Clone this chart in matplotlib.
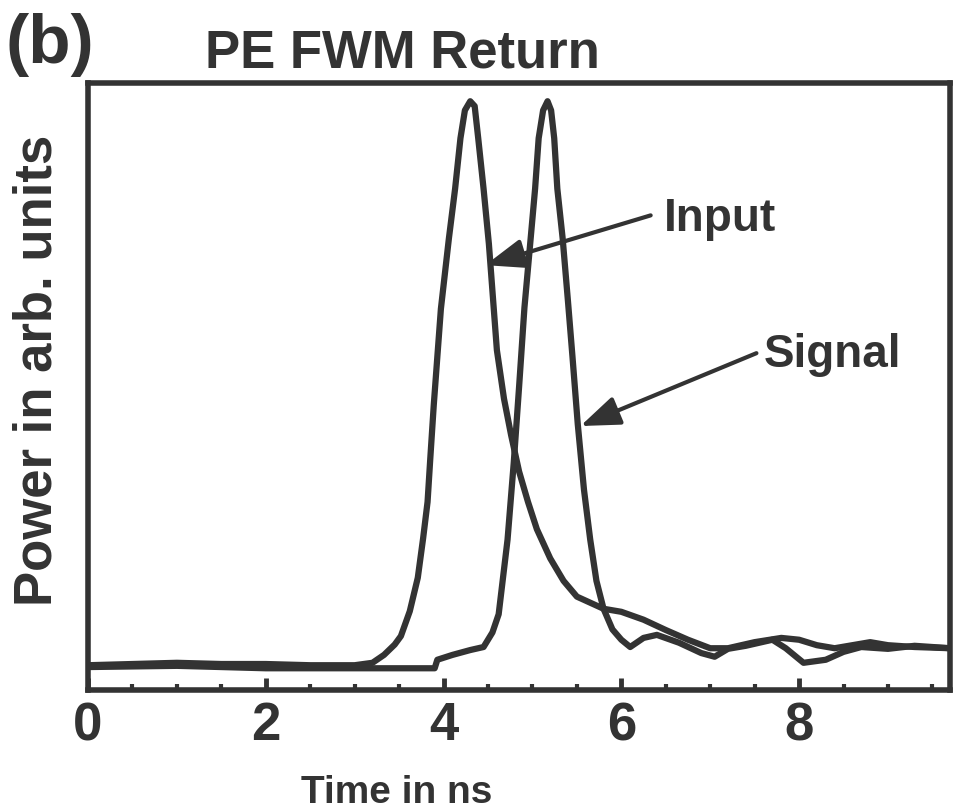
import matplotlib
matplotlib.use('Agg')
import matplotlib.pyplot as plt
from matplotlib.ticker import MultipleLocator

# time in ns, power in arb. units
t_input = [0, 0.5, 1, 1.5, 2, 2.5, 3, 3.2, 3.33, 3.45, 3.52, 3.62, 3.71, 3.77, 3.82,
           3.85, 3.89, 3.97, 4.06, 4.13, 4.19, 4.24, 4.30, 4.35, 4.39, 4.45, 4.51, 4.6,
           4.68, 4.76, 4.85, 4.95, 5.05, 5.2, 5.35, 5.5, 5.8, 6.0, 6.25, 6.5, 6.75, 7.0,
           7.2, 7.5, 7.8, 8.0, 8.2, 8.4, 8.6, 8.8, 9.0, 9.3, 9.7]
v_input = [0.041, 0.043, 0.045, 0.043, 0.043, 0.041, 0.041, 0.045, 0.058, 0.075, 0.089,
           0.13, 0.185, 0.25, 0.31, 0.38, 0.47, 0.628, 0.744, 0.826, 0.909, 0.955, 0.970,
           0.962, 0.909, 0.826, 0.735, 0.56, 0.48, 0.42, 0.36, 0.31, 0.265, 0.217, 0.18,
           0.154, 0.134, 0.129, 0.116, 0.099, 0.083, 0.069, 0.069, 0.079, 0.086, 0.083,
           0.074, 0.069, 0.074, 0.079, 0.074, 0.071, 0.069]

t_signal = [0, 1, 2, 3, 3.9, 3.93, 4.1, 4.3, 4.45, 4.55, 4.62, 4.72, 4.79, 4.85, 4.91,
            4.98, 5.03, 5.07, 5.12, 5.17, 5.21, 5.245, 5.28, 5.34, 5.40, 5.45, 5.51, 5.58,
            5.65, 5.72, 5.8, 5.9, 6.0, 6.1, 6.25, 6.4, 6.65, 6.9, 7.05, 7.2, 7.4, 7.7,
            7.85, 8.05, 8.3, 8.5, 8.7, 9.0, 9.3, 9.7]
v_signal = [0.038, 0.040, 0.036, 0.036, 0.036, 0.050, 0.058, 0.066, 0.071, 0.095, 0.125,
            0.248, 0.375, 0.50, 0.63, 0.744, 0.826, 0.909, 0.955, 0.970, 0.955, 0.909,
            0.826, 0.744, 0.64, 0.55, 0.438, 0.33, 0.248, 0.18, 0.134, 0.10, 0.083, 0.071,
            0.086, 0.091, 0.078, 0.061, 0.055, 0.068, 0.073, 0.083, 0.069, 0.045, 0.050,
            0.063, 0.071, 0.068, 0.073, 0.069]

ink = '#333333'
font = ['Liberation Sans', 'DejaVu Sans']

fig = plt.figure(figsize=(9.59, 8.10), dpi=100)
ax = fig.add_axes([0.0918, 0.148, 0.899, 0.7495])

ax.plot(t_input, v_input, color=ink, lw=4.5, solid_joinstyle='round', solid_capstyle='round')
ax.plot(t_signal, v_signal, color=ink, lw=4.5, solid_joinstyle='round', solid_capstyle='round')

ax.set_xlim(0, 9.7)
ax.set_ylim(0, 1.0)
ax.xaxis.set_major_locator(MultipleLocator(2))
ax.xaxis.set_minor_locator(MultipleLocator(0.5))
ax.set_yticks([])
ax.tick_params(axis='x', which='major', direction='in', length=9, width=3.5, color=ink,
               pad=8, labelsize=38)
ax.tick_params(axis='x', which='minor', direction='in', length=4, width=3, color=ink)
for lab in ax.get_xticklabels():
    lab.set_fontfamily(font)
    lab.set_fontweight('bold')
    lab.set_color(ink)
for s in ax.spines.values():
    s.set_linewidth(4)
    s.set_color(ink)

arrow = dict(arrowstyle='-|>,head_length=1.2,head_width=0.45', lw=3, color=ink,
             mutation_scale=20, shrinkA=0, shrinkB=0)
ax.annotate('', xy=(4.47, 0.70), xytext=(6.33, 0.782), arrowprops=arrow)
ax.annotate('', xy=(5.54, 0.435), xytext=(7.52, 0.555), arrowprops=arrow)
ax.text(6.48, 0.757, 'Input', fontsize=33, fontweight='bold', family=font, color=ink,
        va='baseline', ha='left')
ax.text(7.6, 0.532, 'Signal', fontsize=33, fontweight='bold', family=font, color=ink,
        va='baseline', ha='left')

fig.text(0.006, 0.922, '(b)', fontsize=50, fontweight='bold', family=font, color=ink,
         va='baseline', ha='left')
fig.text(0.214, 0.917, 'PE FWM Return', fontsize=38, fontweight='bold', family=font,
         color=ink, va='baseline', ha='left')
fig.text(0.414, 0.009, 'Time in ns', fontsize=28, fontweight='bold', family=font,
         color=ink, va='baseline', ha='center')
fig.text(0.054, 0.543, 'Power in arb. units', fontsize=38, fontweight='bold', family=font,
         color=ink, va='baseline', ha='center', rotation=90, rotation_mode='anchor')

fig.savefig('out.png', dpi=100)
